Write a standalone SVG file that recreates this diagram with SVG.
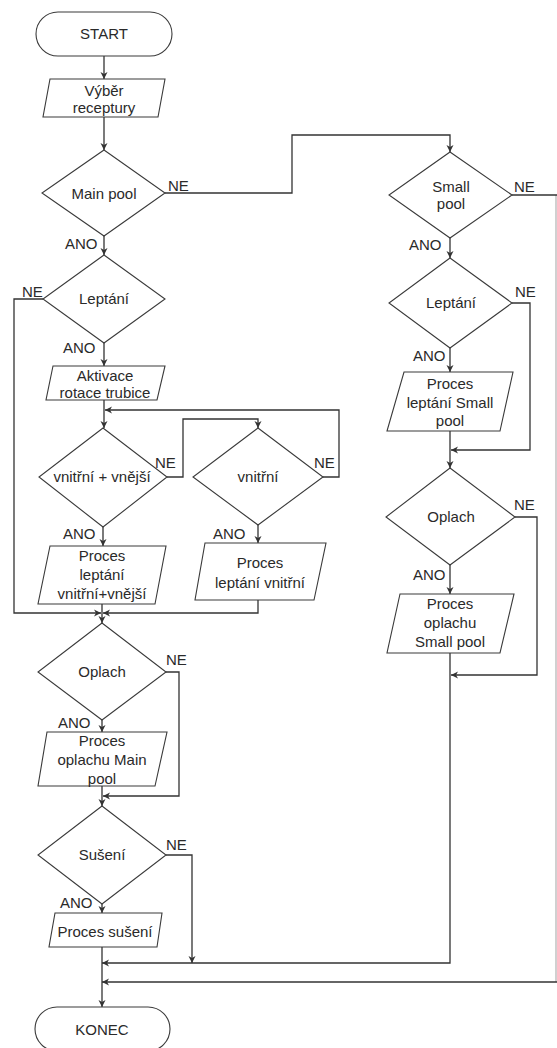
<svg xmlns="http://www.w3.org/2000/svg" width="557" height="1048" viewBox="0 0 557 1048">
<style>
.s{fill:#fff;stroke:#3a3a3a;stroke-width:1.1}
.c{fill:none;stroke:#333;stroke-width:1.3}
text{font-family:"Liberation Sans",Arial,sans-serif;font-size:15px;fill:#2a2a2a}
.m{text-anchor:middle}
</style>
<defs>
<marker id="a" markerWidth="8" markerHeight="8" refX="7" refY="4" orient="auto" markerUnits="userSpaceOnUse">
<path d="M0,0.5 L7,4 L0,7.5 L2,4 Z" fill="#333"/>
</marker>
</defs>
<rect width="557" height="1048" fill="#fff"/>
<g id="connectors">
<path class="c" d="M104,56 V79" marker-end="url(#a)"/>
<path class="c" d="M104,117 V150" marker-end="url(#a)"/>
<path class="c" d="M165,193 H292 V135 H450 V152" marker-end="url(#a)"/>
<path class="c" d="M512,195 H557"/>
<path class="c" d="M556,195 V982" stroke-opacity="0.35"/>
<path class="c" d="M557,982 H102" marker-end="url(#a)"/>
<path class="c" d="M450,238 V258" marker-end="url(#a)"/>
<path class="c" d="M512,303 H530 V450 H451" marker-end="url(#a)"/>
<path class="c" d="M450,348 V372" marker-end="url(#a)"/>
<path class="c" d="M450,431 V468" marker-end="url(#a)"/>
<path class="c" d="M515,517 H537 V675 H451" marker-end="url(#a)"/>
<path class="c" d="M450,565 V594" marker-end="url(#a)"/>
<path class="c" d="M450,653 V963 H102" marker-end="url(#a)"/>
<path class="c" d="M104,236 V255" marker-end="url(#a)"/>
<path class="c" d="M43,299 H14 V613 H101" marker-end="url(#a)"/>
<path class="c" d="M104,343 V366" marker-end="url(#a)"/>
<path class="c" d="M104,400 V428" marker-end="url(#a)"/>
<path class="c" d="M167,477 H183 V419 H258 V428" marker-end="url(#a)"/>
<path class="c" d="M323,477 H339 V410 H105" marker-end="url(#a)"/>
<path class="c" d="M103,527 V546" marker-end="url(#a)"/>
<path class="c" d="M258,525 V543" marker-end="url(#a)"/>
<path class="c" d="M258,600 V613 H103" marker-end="url(#a)"/>
<path class="c" d="M102,604 V623" marker-end="url(#a)"/>
<path class="c" d="M166,672 H179 V796 H103" marker-end="url(#a)"/>
<path class="c" d="M102,720 V732" marker-end="url(#a)"/>
<path class="c" d="M102,786 V806" marker-end="url(#a)"/>
<path class="c" d="M166,855 H192 V963" marker-end="url(#a)"/>
<path class="c" d="M102,904 V913" marker-end="url(#a)"/>
<path class="c" d="M102,947 V1007" marker-end="url(#a)"/>
</g>
<g id="start">
<rect class="s" x="36" y="12" width="136" height="44" rx="22"/>
<text class="m" x="104" y="39">START</text>
</g>
<g id="vyber">
<polygon class="s" points="50,79 165,79 158,117 43,117"/>
<text class="m" x="104" y="96">Výběr</text>
<text class="m" x="104" y="113">receptury</text>
</g>
<g id="mainpool">
<polygon class="s" points="104,150 165,193 104,236 42,193"/>
<text class="m" x="104" y="199">Main pool</text>
<text x="168" y="191">NE</text>
<text x="65" y="249">ANO</text>
</g>
<g id="smallpool">
<polygon class="s" points="450,152 512,195 450,238 389,195"/>
<text class="m" x="451" y="192">Small</text>
<text class="m" x="451" y="209">pool</text>
<text x="514" y="192">NE</text>
<text x="409" y="250">ANO</text>
</g>
<g id="leptani-small">
<polygon class="s" points="450,258 512,303 450,348 389,303"/>
<text class="m" x="451" y="308">Leptání</text>
<text x="515" y="297">NE</text>
<text x="413" y="361">ANO</text>
</g>
<g id="proces-leptani-small">
<polygon class="s" points="404,372 513,372 500,431 387,431"/>
<text class="m" x="450" y="389">Proces</text>
<text class="m" x="450" y="408">leptání Small</text>
<text class="m" x="450" y="426">pool</text>
</g>
<g id="oplach-small">
<polygon class="s" points="450,468 515,517 450,565 386,517"/>
<text class="m" x="451" y="522">Oplach</text>
<text x="514" y="510">NE</text>
<text x="413" y="580">ANO</text>
</g>
<g id="proces-oplachu-small">
<polygon class="s" points="400,594 514,594 500,653 387,653"/>
<text class="m" x="450" y="609">Proces</text>
<text class="m" x="450" y="628">oplachu</text>
<text class="m" x="450" y="647">Small pool</text>
</g>
<g id="leptani-main">
<polygon class="s" points="104,255 165,299 104,343 43,299"/>
<text class="m" x="104" y="304">Leptání</text>
<text x="22" y="297">NE</text>
<text x="63" y="353">ANO</text>
</g>
<g id="aktivace">
<polygon class="s" points="53,366 165,366 157,400 46,400"/>
<text class="m" x="105" y="381">Aktivace</text>
<text class="m" x="105" y="398">rotace trubice</text>
</g>
<g id="vnitrni-vnejsi">
<polygon class="s" points="103,428 167,477 103,527 39,477"/>
<text class="m" x="102" y="482">vnitřní + vnější</text>
<text x="155" y="468">NE</text>
<text x="63" y="539">ANO</text>
</g>
<g id="vnitrni">
<polygon class="s" points="258,428 323,477 258,525 193,477"/>
<text class="m" x="258" y="482">vnitřní</text>
<text x="314" y="468">NE</text>
<text x="213" y="539">ANO</text>
</g>
<g id="proces-leptani-vv">
<polygon class="s" points="50,546 166,546 155,604 38,604"/>
<text class="m" x="102" y="561">Proces</text>
<text class="m" x="102" y="580">leptání</text>
<text class="m" x="102" y="599">vnitřní+vnější</text>
</g>
<g id="proces-leptani-v">
<polygon class="s" points="205,543 326,543 314,600 195,600"/>
<text class="m" x="260" y="568">Proces</text>
<text class="m" x="260" y="588">leptání vnitřní</text>
</g>
<g id="oplach-main">
<polygon class="s" points="102,623 166,672 102,720 38,672"/>
<text class="m" x="102" y="677">Oplach</text>
<text x="166" y="665">NE</text>
<text x="58" y="728">ANO</text>
</g>
<g id="proces-oplachu-main">
<polygon class="s" points="47,732 167,732 155,786 38,786"/>
<text class="m" x="102" y="746">Proces</text>
<text class="m" x="102" y="765">oplachu Main</text>
<text class="m" x="102" y="784">pool</text>
</g>
<g id="suseni">
<polygon class="s" points="102,806 166,855 102,904 38,855"/>
<text class="m" x="102" y="860">Sušení</text>
<text x="166" y="850">NE</text>
<text x="60" y="908">ANO</text>
</g>
<g id="proces-suseni">
<polygon class="s" points="55,913 162,913 157,947 49,947"/>
<text class="m" x="105" y="937">Proces sušení</text>
</g>
<g id="konec">
<rect class="s" x="35" y="1007" width="135" height="44" rx="22"/>
<text class="m" x="102" y="1035">KONEC</text>
</g>
</svg>
